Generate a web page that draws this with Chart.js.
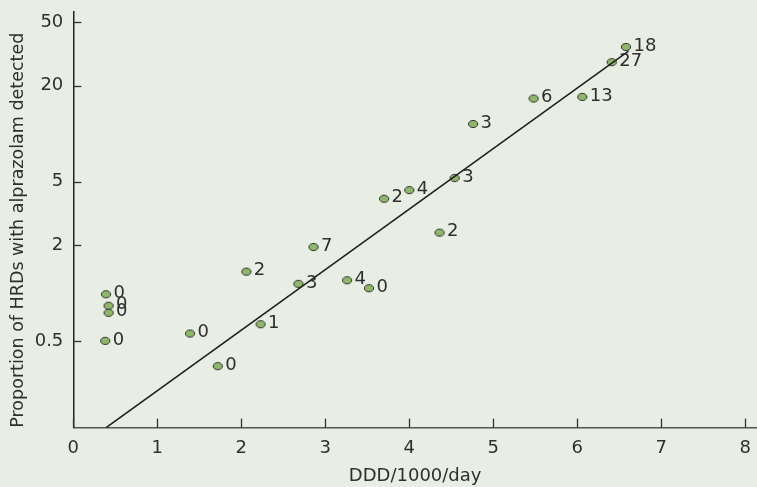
<!DOCTYPE html>
<html>
<head>
<meta charset="utf-8">
<script src="https://cdn.jsdelivr.net/npm/chart.js@4.4.1/dist/chart.umd.min.js"></script>
<style>
  html, body { margin: 0; padding: 0; background: #e8eee3; overflow: hidden; }
  #wrap { width: 757px; height: 487px; }
</style>
</head>
<body>
<div id="wrap"><canvas id="chart"></canvas></div>
<script>
/*************** Data *************************************/

var dddPerDay   = [0.39, 0.42, 0.42, 0.38, 1.39, 1.72, 2.06, 2.23, 2.68, 2.86, 3.26, 3.52, 3.70, 4.00, 4.54, 4.36, 4.76, 5.48, 6.06, 6.41, 6.58];
var proportion  = [0.98, 0.83, 0.75, 0.50, 0.556, 0.347, 1.36, 0.636, 1.14, 1.94, 1.2, 1.07, 3.9, 4.42, 5.26, 2.39, 11.5, 16.6, 17.0, 28.1, 35.0];
var hrdCounts   = ["0", "0", "0", "0", "0", "0", "2", "1", "3", "7", "4", "0", "2", "4", "3", "2", "3", "6", "13", "27", "18"];

// regression line end points
var fitX = [0.39, 6.61];
var fitY = [0.1425, 32.9];

var xTickValues = [0, 1, 2, 3, 4, 5, 6, 7, 8];
var yTickValues = [0.5, 2, 5, 20, 50];

var textColor = "#2f2f2f";
var fontFamily = "'DejaVu Sans', sans-serif";

/*************** Marker (small ellipse) ****************/

function makeMarker() {
    var c = document.createElement("canvas");
    c.width = 12; c.height = 10;
    var ctx = c.getContext("2d");
    ctx.beginPath();
    ctx.ellipse(6, 5, 4.6, 3.6, 0, 0, Math.PI * 2);
    ctx.fillStyle = "#8fb76c";
    ctx.fill();
    ctx.lineWidth = 1;
    ctx.strokeStyle = "#2e2e2e";
    ctx.stroke();
    return c;
}

/*************** Plugins: inward ticks and point labels ****************/

var inwardTicks = {
    id: "inwardTicks",
    afterDraw: function (chart) {
        var ctx = chart.ctx, xs = chart.scales.x, ys = chart.scales.y;
        var area = chart.chartArea;
        ctx.save();
        ctx.strokeStyle = "#333";
        ctx.lineWidth = 1.3;
        xTickValues.forEach(function (v) {
            var px = Math.round(xs.getPixelForValue(v)) + 0.5;
            ctx.beginPath();
            ctx.moveTo(px, area.bottom);
            ctx.lineTo(px, area.bottom - 9);
            ctx.stroke();
        });
        yTickValues.forEach(function (v) {
            var py = Math.round(ys.getPixelForValue(v)) + 0.5;
            ctx.beginPath();
            ctx.moveTo(area.left, py);
            ctx.lineTo(area.left + 8, py);
            ctx.stroke();
        });
        ctx.restore();
    }
};

var pointLabels = {
    id: "pointLabels",
    afterDatasetsDraw: function (chart) {
        var ctx = chart.ctx;
        var meta = chart.getDatasetMeta(1);
        ctx.save();
        ctx.font = "18px " + fontFamily;
        ctx.fillStyle = textColor;
        ctx.textAlign = "left";
        ctx.textBaseline = "middle";
        meta.data.forEach(function (pt, i) {
            ctx.fillText(hrdCounts[i], pt.x + 7.5, pt.y - 1);
        });
        ctx.restore();
    }
};

function noPadding(scale) {
    scale.paddingTop = 0;
    scale.paddingBottom = 0;
    scale.paddingLeft = 0;
    scale.paddingRight = 0;
}

/*************** Creating chart ****************/

var points = dddPerDay.map(function (x, i) { return {x: x, y: proportion[i]}; });
var fitLine = fitX.map(function (x, i) { return {x: x, y: fitY[i]}; });

Chart.defaults.font.family = fontFamily;
Chart.defaults.color = textColor;

new Chart(document.getElementById("chart"), {
    type: "scatter",
    data: {
        datasets: [
            {
                type: "line",
                data: fitLine,
                borderColor: "#1e1e1e",
                borderWidth: 1.5,
                pointRadius: 0,
                fill: false
            },
            {
                data: points,
                pointStyle: makeMarker(),
                pointRadius: 5
            }
        ]
    },
    options: {
        responsive: true,
        maintainAspectRatio: false,
        animation: false,
        layout: { autoPadding: false, padding: { top: 12, right: 0, left: 0, bottom: 0 } },
        plugins: {
            legend: { display: false },
            tooltip: { enabled: false }
        },
        scales: {
            x: {
                type: "linear",
                min: 0,
                max: 8.14,
                afterBuildTicks: function (scale) {
                    scale.ticks = xTickValues.map(function (v) { return {value: v}; });
                },
                afterFit: function (scale) { scale.height = 59.3; noPadding(scale); },
                grid: { display: false, drawTicks: false },
                border: { display: true, color: "#555", width: 1.5 },
                ticks: { font: { size: 18 }, padding: 10, color: textColor },
                title: {
                    display: true,
                    text: "DDD/1000/day",
                    font: { size: 18 },
                    color: textColor,
                    padding: { top: 0, bottom: 0 }
                }
            },
            y: {
                type: "logarithmic",
                min: 0.1425,
                max: 58,
                afterBuildTicks: function (scale) {
                    scale.ticks = yTickValues.map(function (v) { return {value: v}; });
                },
                afterFit: function (scale) { scale.width = 73.3; noPadding(scale); },
                grid: { display: false, drawTicks: false },
                border: { display: true, color: "#222", width: 1.5 },
                ticks: {
                    font: { size: 18 },
                    padding: 10,
                    color: textColor,
                    callback: function (v) { return String(v); }
                },
                title: {
                    display: true,
                    text: "Proportion of HRDs with alprazolam detected",
                    align: "start",
                    font: { size: 17.5 },
                    color: textColor,
                    padding: { top: 8, bottom: 0 }
                }
            }
        }
    },
    plugins: [inwardTicks, pointLabels]
});
</script>
</body>
</html>
